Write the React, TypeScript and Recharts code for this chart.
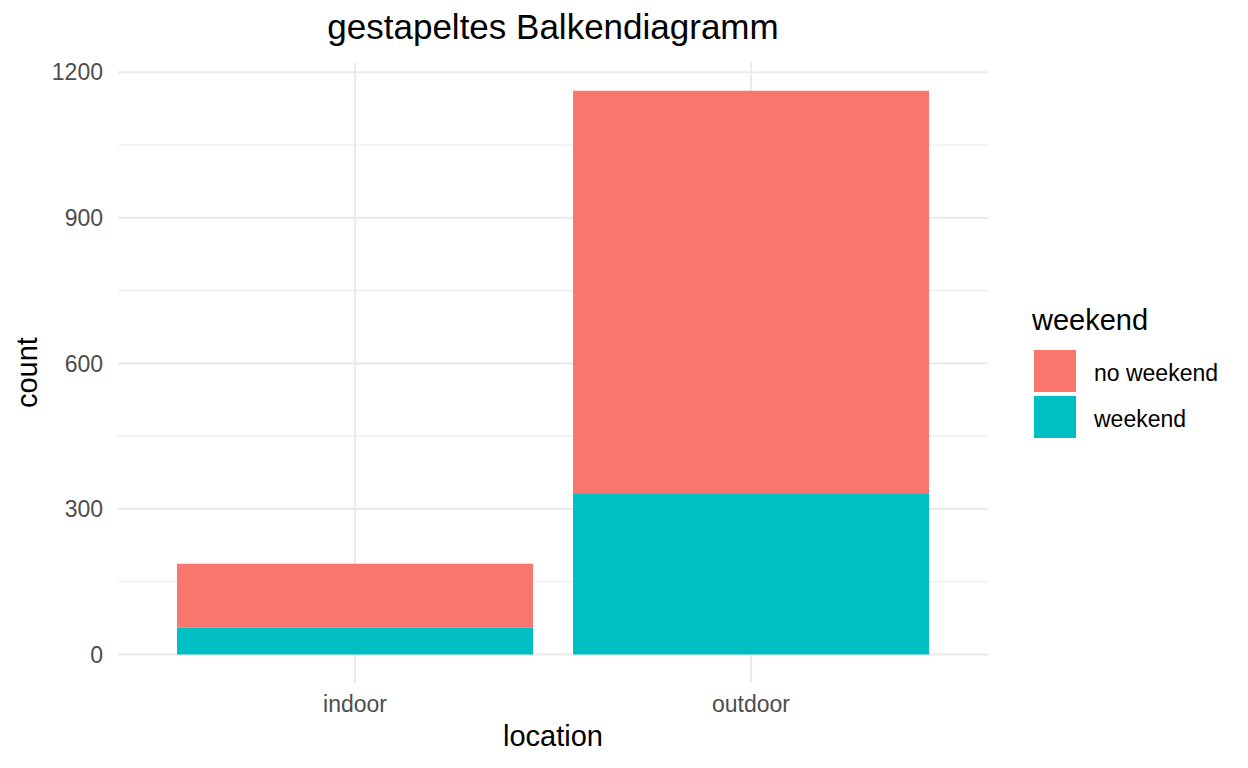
import React from 'react';
import { BarChart, Bar, XAxis, YAxis, CartesianGrid, Label } from 'recharts';

const locations = ['indoor', 'outdoor'];
const weekendCounts = [55, 331];
const noWeekendCounts = [132, 831];
const yTicks = [0, 300, 600, 900, 1200];
const minorTicks = [150, 450, 750, 1050];

const legendItems = [
  { name: 'no weekend', color: '#F8766D' },
  { name: 'weekend', color: '#00BFC4' },
];

const data = locations.map((loc, i) => ({
  location: loc,
  weekend: weekendCounts[i],
  noWeekend: noWeekendCounts[i],
}));

const FONT = '"Liberation Sans", Arial, Helvetica, sans-serif';

// legend sits to the right of the panel, like ggplot's guide
function LegendBox() {
  return (
    <div style={{ position: 'absolute', left: 1032, top: 305.5, fontFamily: FONT }}>
      <div style={{ fontSize: 29, lineHeight: '29px', color: '#000' }}>weekend</div>
      {legendItems.map((item, i) => (
        <div key={item.name} style={{ position: 'absolute', left: 2, top: 44.5 + i * 46, width: 200, height: 42 }}>
          <div style={{ position: 'absolute', left: 0, top: 0, width: 42, height: 42, background: item.color }} />
          <div style={{ position: 'absolute', left: 60, top: 12.2, fontSize: 23, lineHeight: '23px', color: '#000', whiteSpace: 'nowrap' }}>
            {item.name}
          </div>
        </div>
      ))}
    </div>
  );
}

export default function App() {
  return (
    <div style={{ position: 'absolute', left: 0, top: 0, width: 1248, height: 768, background: '#fff', fontFamily: FONT }}>
      <div
        style={{
          position: 'absolute',
          left: 0,
          width: 1106,
          top: 8.7,
          textAlign: 'center',
          fontSize: 35,
          lineHeight: '35px',
          color: '#000',
          whiteSpace: 'nowrap',
        }}
      >
        gestapeltes Balkendiagramm
      </div>
      <BarChart
        width={1248}
        height={768}
        data={data}
        margin={{ top: 62.5, right: 260, left: 0, bottom: 0 }}
        barCategoryGap={20}
      >
        <CartesianGrid horizontalValues={minorTicks} vertical={false} stroke="#EBEBEB" strokeWidth={1.1} />
        <CartesianGrid syncWithTicks stroke="#EBEBEB" strokeWidth={2.2} />
        <XAxis
          dataKey="location"
          padding={{ left: 39, right: 39 }}
          axisLine={false}
          tickLine={false}
          tickSize={0}
          tickMargin={13}
          height={85.3}
          tick={{ fill: '#4D4D4D', fontSize: 23, fontFamily: FONT }}
        >
          <Label value="location" position="insideBottom" offset={21.7} fill="#000" fontSize={29} fontFamily={FONT} />
        </XAxis>
        <YAxis
          domain={[-58.1, 1220.1]}
          ticks={yTicks}
          width={118}
          axisLine={false}
          tickLine={false}
          tickSize={0}
          tickMargin={15}
          tick={{ fill: '#4D4D4D', fontSize: 23, fontFamily: FONT }}
        >
          <Label
            content={() => (
              <text
                x={36.7}
                y={372.6}
                transform="rotate(-90 36.7 372.6)"
                textAnchor="middle"
                fontSize={29}
                fontFamily={FONT}
                fill="#000"
              >
                count
              </text>
            )}
          />
        </YAxis>
        <Bar dataKey="weekend" stackId="a" fill="#00BFC4" isAnimationActive={false} />
        <Bar dataKey="noWeekend" stackId="a" fill="#F8766D" isAnimationActive={false} />
      </BarChart>
      <LegendBox />
    </div>
  );
}
